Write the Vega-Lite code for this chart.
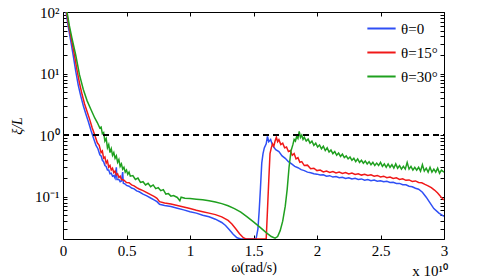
{
  "$schema": "https://vega.github.io/schema/vega-lite/v6.json",
  "width": 381,
  "height": 227,
  "autosize": "none",
  "padding": {"left": 63, "top": 12, "right": 47, "bottom": 41},
  "config": {
    "font": "Liberation Serif",
    "view": {"stroke": null},
    "axis": {"grid": false, "domainColor": "black", "tickColor": "black", "labelColor": "black", "titleColor": "black", "labelFontSize": 15, "titleFontWeight": "normal", "titleFontSize": 14, "tickSize": -4, "labelPadding": 8, "labelFont": "Liberation Serif", "titleFont": "Liberation Serif"},
    "legend": {"labelFont": "Liberation Serif"}
  },
  "title": {"text": "x 10¹⁰", "orient": "bottom", "anchor": "end", "fontSize": 15, "fontWeight": "normal", "font": "Liberation Serif", "color": "black", "offset": -10},
  "datasets": {
    "ref": [{"x": 0, "y": 1}, {"x": 3, "y": 1}],
    "curves": [
      {"s":"θ=0","x":0.02,"y":115},{"s":"θ=0","x":0.04,"y":60},{"s":"θ=0","x":0.06,"y":35},{"s":"θ=0","x":0.08,"y":20},{"s":"θ=0","x":0.1,"y":11},{"s":"θ=0","x":0.12,"y":6.5},{"s":"θ=0","x":0.14,"y":4.3},{"s":"θ=0","x":0.16,"y":3.0},{"s":"θ=0","x":0.18,"y":2.2},{"s":"θ=0","x":0.2,"y":1.65},{"s":"θ=0","x":0.22,"y":1.2},{"s":"θ=0","x":0.24,"y":0.9},{"s":"θ=0","x":0.26,"y":0.68},{"s":"θ=0","x":0.275,"y":0.6},{"s":"θ=0","x":0.29,"y":0.48},{"s":"θ=0","x":0.3,"y":0.46},{"s":"θ=0","x":0.31,"y":0.39},{"s":"θ=0","x":0.32,"y":0.37},{"s":"θ=0","x":0.33,"y":0.32},{"s":"θ=0","x":0.34,"y":0.31},{"s":"θ=0","x":0.35,"y":0.27},{"s":"θ=0","x":0.36,"y":0.27},{"s":"θ=0","x":0.37,"y":0.235},{"s":"θ=0","x":0.38,"y":0.24},{"s":"θ=0","x":0.39,"y":0.215},{"s":"θ=0","x":0.4,"y":0.22},{"s":"θ=0","x":0.41,"y":0.2},{"s":"θ=0","x":0.42,"y":0.3},{"s":"θ=0","x":0.425,"y":0.19},{"s":"θ=0","x":0.44,"y":0.19},{"s":"θ=0","x":0.45,"y":0.175},{"s":"θ=0","x":0.46,"y":0.18},{"s":"θ=0","x":0.47,"y":0.25},{"s":"θ=0","x":0.475,"y":0.165},{"s":"θ=0","x":0.49,"y":0.16},{"s":"θ=0","x":0.5,"y":0.152},{"s":"θ=0","x":0.52,"y":0.148},{"s":"θ=0","x":0.54,"y":0.138},{"s":"θ=0","x":0.56,"y":0.134},{"s":"θ=0","x":0.58,"y":0.124},{"s":"θ=0","x":0.6,"y":0.12},{"s":"θ=0","x":0.63,"y":0.11},{"s":"θ=0","x":0.66,"y":0.103},{"s":"θ=0","x":0.69,"y":0.095},{"s":"θ=0","x":0.72,"y":0.088},{"s":"θ=0","x":0.74,"y":0.083},{"s":"θ=0","x":0.76,"y":0.075},{"s":"θ=0","x":0.8,"y":0.072},{"s":"θ=0","x":0.85,"y":0.069},{"s":"θ=0","x":0.9,"y":0.065},{"s":"θ=0","x":0.95,"y":0.061},{"s":"θ=0","x":1.0,"y":0.057},{"s":"θ=0","x":1.05,"y":0.054},{"s":"θ=0","x":1.1,"y":0.05},{"s":"θ=0","x":1.15,"y":0.047},{"s":"θ=0","x":1.2,"y":0.043},{"s":"θ=0","x":1.25,"y":0.038},{"s":"θ=0","x":1.28,"y":0.034},{"s":"θ=0","x":1.31,"y":0.029},{"s":"θ=0","x":1.34,"y":0.0245},{"s":"θ=0","x":1.37,"y":0.0215},{"s":"θ=0","x":1.4,"y":0.0205},{"s":"θ=0","x":1.52,"y":0.0205},{"s":"θ=0","x":1.535,"y":0.03},{"s":"θ=0","x":1.545,"y":0.06},{"s":"θ=0","x":1.555,"y":0.14},{"s":"θ=0","x":1.565,"y":0.35},{"s":"θ=0","x":1.575,"y":0.5},{"s":"θ=0","x":1.585,"y":0.62},{"s":"θ=0","x":1.6,"y":0.72},{"s":"θ=0","x":1.61,"y":0.95},{"s":"θ=0","x":1.62,"y":0.78},{"s":"θ=0","x":1.635,"y":0.85},{"s":"θ=0","x":1.65,"y":0.68},{"s":"θ=0","x":1.675,"y":0.58},{"s":"θ=0","x":1.7,"y":0.54},{"s":"θ=0","x":1.725,"y":0.46},{"s":"θ=0","x":1.75,"y":0.42},{"s":"θ=0","x":1.775,"y":0.37},{"s":"θ=0","x":1.8,"y":0.34},{"s":"θ=0","x":1.825,"y":0.31},{"s":"θ=0","x":1.85,"y":0.295},{"s":"θ=0","x":1.875,"y":0.275},{"s":"θ=0","x":1.9,"y":0.265},{"s":"θ=0","x":1.925,"y":0.25},{"s":"θ=0","x":1.95,"y":0.245},{"s":"θ=0","x":1.975,"y":0.235},{"s":"θ=0","x":2.0,"y":0.232},{"s":"θ=0","x":2.025,"y":0.224},{"s":"θ=0","x":2.05,"y":0.226},{"s":"θ=0","x":2.075,"y":0.215},{"s":"θ=0","x":2.1,"y":0.219},{"s":"θ=0","x":2.125,"y":0.208},{"s":"θ=0","x":2.15,"y":0.213},{"s":"θ=0","x":2.175,"y":0.203},{"s":"θ=0","x":2.2,"y":0.207},{"s":"θ=0","x":2.225,"y":0.198},{"s":"θ=0","x":2.25,"y":0.203},{"s":"θ=0","x":2.275,"y":0.193},{"s":"θ=0","x":2.3,"y":0.198},{"s":"θ=0","x":2.325,"y":0.19},{"s":"θ=0","x":2.35,"y":0.194},{"s":"θ=0","x":2.375,"y":0.185},{"s":"θ=0","x":2.4,"y":0.19},{"s":"θ=0","x":2.425,"y":0.182},{"s":"θ=0","x":2.45,"y":0.186},{"s":"θ=0","x":2.475,"y":0.178},{"s":"θ=0","x":2.5,"y":0.181},{"s":"θ=0","x":2.525,"y":0.174},{"s":"θ=0","x":2.55,"y":0.177},{"s":"θ=0","x":2.575,"y":0.17},{"s":"θ=0","x":2.6,"y":0.171},{"s":"θ=0","x":2.625,"y":0.164},{"s":"θ=0","x":2.65,"y":0.164},{"s":"θ=0","x":2.675,"y":0.156},{"s":"θ=0","x":2.7,"y":0.156},{"s":"θ=0","x":2.725,"y":0.148},{"s":"θ=0","x":2.75,"y":0.145},{"s":"θ=0","x":2.775,"y":0.137},{"s":"θ=0","x":2.8,"y":0.132},{"s":"θ=0","x":2.83,"y":0.118},{"s":"θ=0","x":2.86,"y":0.098},{"s":"θ=0","x":2.89,"y":0.079},{"s":"θ=0","x":2.92,"y":0.064},{"s":"θ=0","x":2.96,"y":0.054},{"s":"θ=0","x":3.0,"y":0.048},
      {"s":"θ=15°","x":0.02,"y":125},{"s":"θ=15°","x":0.045,"y":60},{"s":"θ=15°","x":0.07,"y":33},{"s":"θ=15°","x":0.09,"y":20},{"s":"θ=15°","x":0.11,"y":11.5},{"s":"θ=15°","x":0.13,"y":7},{"s":"θ=15°","x":0.15,"y":4.6},{"s":"θ=15°","x":0.17,"y":3.2},{"s":"θ=15°","x":0.19,"y":2.4},{"s":"θ=15°","x":0.21,"y":1.8},{"s":"θ=15°","x":0.23,"y":1.3},{"s":"θ=15°","x":0.25,"y":1.0},{"s":"θ=15°","x":0.27,"y":0.75},{"s":"θ=15°","x":0.285,"y":0.68},{"s":"θ=15°","x":0.3,"y":0.52},{"s":"θ=15°","x":0.31,"y":0.55},{"s":"θ=15°","x":0.32,"y":0.42},{"s":"θ=15°","x":0.33,"y":0.44},{"s":"θ=15°","x":0.34,"y":0.35},{"s":"θ=15°","x":0.35,"y":0.38},{"s":"θ=15°","x":0.36,"y":0.3},{"s":"θ=15°","x":0.37,"y":0.32},{"s":"θ=15°","x":0.38,"y":0.27},{"s":"θ=15°","x":0.39,"y":0.29},{"s":"θ=15°","x":0.4,"y":0.245},{"s":"θ=15°","x":0.41,"y":0.26},{"s":"θ=15°","x":0.42,"y":0.225},{"s":"θ=15°","x":0.43,"y":0.235},{"s":"θ=15°","x":0.44,"y":0.205},{"s":"θ=15°","x":0.45,"y":0.215},{"s":"θ=15°","x":0.46,"y":0.19},{"s":"θ=15°","x":0.48,"y":0.185},{"s":"θ=15°","x":0.5,"y":0.17},{"s":"θ=15°","x":0.52,"y":0.168},{"s":"θ=15°","x":0.54,"y":0.155},{"s":"θ=15°","x":0.56,"y":0.15},{"s":"θ=15°","x":0.58,"y":0.14},{"s":"θ=15°","x":0.6,"y":0.133},{"s":"θ=15°","x":0.63,"y":0.125},{"s":"θ=15°","x":0.66,"y":0.116},{"s":"θ=15°","x":0.69,"y":0.108},{"s":"θ=15°","x":0.72,"y":0.1},{"s":"θ=15°","x":0.74,"y":0.094},{"s":"θ=15°","x":0.76,"y":0.083},{"s":"θ=15°","x":0.8,"y":0.079},{"s":"θ=15°","x":0.85,"y":0.076},{"s":"θ=15°","x":0.9,"y":0.072},{"s":"θ=15°","x":0.95,"y":0.068},{"s":"θ=15°","x":1.0,"y":0.064},{"s":"θ=15°","x":1.05,"y":0.06},{"s":"θ=15°","x":1.1,"y":0.057},{"s":"θ=15°","x":1.15,"y":0.054},{"s":"θ=15°","x":1.2,"y":0.051},{"s":"θ=15°","x":1.25,"y":0.047},{"s":"θ=15°","x":1.3,"y":0.041},{"s":"θ=15°","x":1.33,"y":0.036},{"s":"θ=15°","x":1.36,"y":0.03},{"s":"θ=15°","x":1.39,"y":0.025},{"s":"θ=15°","x":1.42,"y":0.0215},{"s":"θ=15°","x":1.44,"y":0.0205},{"s":"θ=15°","x":1.6,"y":0.0205},{"s":"θ=15°","x":1.61,"y":0.06},{"s":"θ=15°","x":1.62,"y":0.18},{"s":"θ=15°","x":1.63,"y":0.5},{"s":"θ=15°","x":1.64,"y":0.62},{"s":"θ=15°","x":1.65,"y":0.72},{"s":"θ=15°","x":1.66,"y":0.66},{"s":"θ=15°","x":1.67,"y":0.8},{"s":"θ=15°","x":1.68,"y":0.92},{"s":"θ=15°","x":1.69,"y":0.78},{"s":"θ=15°","x":1.7,"y":0.84},{"s":"θ=15°","x":1.715,"y":0.7},{"s":"θ=15°","x":1.73,"y":0.74},{"s":"θ=15°","x":1.745,"y":0.62},{"s":"θ=15°","x":1.76,"y":0.64},{"s":"θ=15°","x":1.775,"y":0.54},{"s":"θ=15°","x":1.79,"y":0.56},{"s":"θ=15°","x":1.805,"y":0.47},{"s":"θ=15°","x":1.82,"y":0.5},{"s":"θ=15°","x":1.835,"y":0.41},{"s":"θ=15°","x":1.85,"y":0.43},{"s":"θ=15°","x":1.865,"y":0.36},{"s":"θ=15°","x":1.88,"y":0.37},{"s":"θ=15°","x":1.9,"y":0.32},{"s":"θ=15°","x":1.925,"y":0.325},{"s":"θ=15°","x":1.95,"y":0.285},{"s":"θ=15°","x":1.975,"y":0.29},{"s":"θ=15°","x":2.0,"y":0.265},{"s":"θ=15°","x":2.025,"y":0.27},{"s":"θ=15°","x":2.05,"y":0.252},{"s":"θ=15°","x":2.075,"y":0.26},{"s":"θ=15°","x":2.1,"y":0.247},{"s":"θ=15°","x":2.125,"y":0.256},{"s":"θ=15°","x":2.15,"y":0.242},{"s":"θ=15°","x":2.175,"y":0.25},{"s":"θ=15°","x":2.2,"y":0.238},{"s":"θ=15°","x":2.225,"y":0.246},{"s":"θ=15°","x":2.25,"y":0.233},{"s":"θ=15°","x":2.275,"y":0.241},{"s":"θ=15°","x":2.3,"y":0.229},{"s":"θ=15°","x":2.325,"y":0.236},{"s":"θ=15°","x":2.35,"y":0.224},{"s":"θ=15°","x":2.375,"y":0.231},{"s":"θ=15°","x":2.4,"y":0.22},{"s":"θ=15°","x":2.425,"y":0.226},{"s":"θ=15°","x":2.45,"y":0.214},{"s":"θ=15°","x":2.475,"y":0.221},{"s":"θ=15°","x":2.5,"y":0.209},{"s":"θ=15°","x":2.525,"y":0.215},{"s":"θ=15°","x":2.55,"y":0.203},{"s":"θ=15°","x":2.575,"y":0.208},{"s":"θ=15°","x":2.6,"y":0.197},{"s":"θ=15°","x":2.625,"y":0.202},{"s":"θ=15°","x":2.65,"y":0.19},{"s":"θ=15°","x":2.675,"y":0.195},{"s":"θ=15°","x":2.7,"y":0.184},{"s":"θ=15°","x":2.725,"y":0.187},{"s":"θ=15°","x":2.75,"y":0.177},{"s":"θ=15°","x":2.775,"y":0.18},{"s":"θ=15°","x":2.8,"y":0.17},{"s":"θ=15°","x":2.825,"y":0.168},{"s":"θ=15°","x":2.85,"y":0.158},{"s":"θ=15°","x":2.875,"y":0.15},{"s":"θ=15°","x":2.9,"y":0.14},{"s":"θ=15°","x":2.925,"y":0.128},{"s":"θ=15°","x":2.95,"y":0.115},{"s":"θ=15°","x":2.975,"y":0.1},{"s":"θ=15°","x":3.0,"y":0.088},
      {"s":"θ=30°","x":0.03,"y":105},{"s":"θ=30°","x":0.05,"y":60},{"s":"θ=30°","x":0.07,"y":38},{"s":"θ=30°","x":0.1,"y":20},{"s":"θ=30°","x":0.13,"y":9.5},{"s":"θ=30°","x":0.16,"y":5.5},{"s":"θ=30°","x":0.19,"y":3.6},{"s":"θ=30°","x":0.22,"y":2.6},{"s":"θ=30°","x":0.25,"y":1.9},{"s":"θ=30°","x":0.27,"y":1.6},{"s":"θ=30°","x":0.29,"y":1.3},{"s":"θ=30°","x":0.3,"y":1.35},{"s":"θ=30°","x":0.31,"y":1.05},{"s":"θ=30°","x":0.32,"y":1.1},{"s":"θ=30°","x":0.33,"y":0.8},{"s":"θ=30°","x":0.34,"y":0.88},{"s":"θ=30°","x":0.35,"y":0.62},{"s":"θ=30°","x":0.36,"y":0.7},{"s":"θ=30°","x":0.37,"y":0.52},{"s":"θ=30°","x":0.38,"y":0.6},{"s":"θ=30°","x":0.39,"y":0.47},{"s":"θ=30°","x":0.4,"y":0.52},{"s":"θ=30°","x":0.41,"y":0.42},{"s":"θ=30°","x":0.42,"y":0.46},{"s":"θ=30°","x":0.43,"y":0.36},{"s":"θ=30°","x":0.44,"y":0.4},{"s":"θ=30°","x":0.45,"y":0.31},{"s":"θ=30°","x":0.46,"y":0.34},{"s":"θ=30°","x":0.47,"y":0.28},{"s":"θ=30°","x":0.48,"y":0.3},{"s":"θ=30°","x":0.49,"y":0.25},{"s":"θ=30°","x":0.5,"y":0.27},{"s":"θ=30°","x":0.51,"y":0.23},{"s":"θ=30°","x":0.52,"y":0.25},{"s":"θ=30°","x":0.53,"y":0.215},{"s":"θ=30°","x":0.55,"y":0.22},{"s":"θ=30°","x":0.57,"y":0.19},{"s":"θ=30°","x":0.59,"y":0.2},{"s":"θ=30°","x":0.61,"y":0.17},{"s":"θ=30°","x":0.63,"y":0.175},{"s":"θ=30°","x":0.65,"y":0.155},{"s":"θ=30°","x":0.67,"y":0.165},{"s":"θ=30°","x":0.69,"y":0.145},{"s":"θ=30°","x":0.71,"y":0.155},{"s":"θ=30°","x":0.73,"y":0.135},{"s":"θ=30°","x":0.75,"y":0.14},{"s":"θ=30°","x":0.77,"y":0.125},{"s":"θ=30°","x":0.79,"y":0.13},{"s":"θ=30°","x":0.81,"y":0.11},{"s":"θ=30°","x":0.83,"y":0.112},{"s":"θ=30°","x":0.85,"y":0.102},{"s":"θ=30°","x":0.87,"y":0.104},{"s":"θ=30°","x":0.9,"y":0.097},{"s":"θ=30°","x":0.92,"y":0.086},{"s":"θ=30°","x":0.93,"y":0.098},{"s":"θ=30°","x":0.96,"y":0.094},{"s":"θ=30°","x":1.0,"y":0.093},{"s":"θ=30°","x":1.05,"y":0.091},{"s":"θ=30°","x":1.1,"y":0.089},{"s":"θ=30°","x":1.15,"y":0.086},{"s":"θ=30°","x":1.2,"y":0.082},{"s":"θ=30°","x":1.25,"y":0.077},{"s":"θ=30°","x":1.3,"y":0.071},{"s":"θ=30°","x":1.35,"y":0.064},{"s":"θ=30°","x":1.4,"y":0.056},{"s":"θ=30°","x":1.45,"y":0.047},{"s":"θ=30°","x":1.5,"y":0.039},{"s":"θ=30°","x":1.55,"y":0.032},{"s":"θ=30°","x":1.6,"y":0.026},{"s":"θ=30°","x":1.64,"y":0.0225},{"s":"θ=30°","x":1.67,"y":0.0212},{"s":"θ=30°","x":1.69,"y":0.0225},{"s":"θ=30°","x":1.71,"y":0.028},{"s":"θ=30°","x":1.73,"y":0.04},{"s":"θ=30°","x":1.75,"y":0.07},{"s":"θ=30°","x":1.765,"y":0.13},{"s":"θ=30°","x":1.78,"y":0.3},{"s":"θ=30°","x":1.795,"y":0.55},{"s":"θ=30°","x":1.81,"y":0.7},{"s":"θ=30°","x":1.82,"y":0.85},{"s":"θ=30°","x":1.83,"y":0.8},{"s":"θ=30°","x":1.84,"y":0.95},{"s":"θ=30°","x":1.85,"y":0.88},{"s":"θ=30°","x":1.86,"y":1.15},{"s":"θ=30°","x":1.87,"y":0.92},{"s":"θ=30°","x":1.88,"y":1.0},{"s":"θ=30°","x":1.89,"y":0.85},{"s":"θ=30°","x":1.9,"y":0.92},{"s":"θ=30°","x":1.915,"y":0.8},{"s":"θ=30°","x":1.93,"y":0.86},{"s":"θ=30°","x":1.945,"y":0.74},{"s":"θ=30°","x":1.96,"y":0.8},{"s":"θ=30°","x":1.975,"y":0.68},{"s":"θ=30°","x":1.99,"y":0.74},{"s":"θ=30°","x":2.005,"y":0.64},{"s":"θ=30°","x":2.02,"y":0.69},{"s":"θ=30°","x":2.035,"y":0.6},{"s":"θ=30°","x":2.05,"y":0.66},{"s":"θ=30°","x":2.065,"y":0.56},{"s":"θ=30°","x":2.08,"y":0.62},{"s":"θ=30°","x":2.095,"y":0.53},{"s":"θ=30°","x":2.11,"y":0.57},{"s":"θ=30°","x":2.125,"y":0.5},{"s":"θ=30°","x":2.14,"y":0.54},{"s":"θ=30°","x":2.155,"y":0.47},{"s":"θ=30°","x":2.17,"y":0.51},{"s":"θ=30°","x":2.185,"y":0.45},{"s":"θ=30°","x":2.2,"y":0.49},{"s":"θ=30°","x":2.215,"y":0.43},{"s":"θ=30°","x":2.23,"y":0.46},{"s":"θ=30°","x":2.245,"y":0.41},{"s":"θ=30°","x":2.26,"y":0.44},{"s":"θ=30°","x":2.275,"y":0.39},{"s":"θ=30°","x":2.29,"y":0.42},{"s":"θ=30°","x":2.305,"y":0.37},{"s":"θ=30°","x":2.32,"y":0.41},{"s":"θ=30°","x":2.335,"y":0.36},{"s":"θ=30°","x":2.35,"y":0.39},{"s":"θ=30°","x":2.365,"y":0.35},{"s":"θ=30°","x":2.38,"y":0.38},{"s":"θ=30°","x":2.395,"y":0.34},{"s":"θ=30°","x":2.41,"y":0.37},{"s":"θ=30°","x":2.425,"y":0.33},{"s":"θ=30°","x":2.44,"y":0.36},{"s":"θ=30°","x":2.455,"y":0.32},{"s":"θ=30°","x":2.47,"y":0.35},{"s":"θ=30°","x":2.485,"y":0.32},{"s":"θ=30°","x":2.5,"y":0.36},{"s":"θ=30°","x":2.515,"y":0.31},{"s":"θ=30°","x":2.53,"y":0.34},{"s":"θ=30°","x":2.545,"y":0.3},{"s":"θ=30°","x":2.56,"y":0.34},{"s":"θ=30°","x":2.575,"y":0.3},{"s":"θ=30°","x":2.59,"y":0.33},{"s":"θ=30°","x":2.605,"y":0.29},{"s":"θ=30°","x":2.62,"y":0.34},{"s":"θ=30°","x":2.635,"y":0.29},{"s":"θ=30°","x":2.65,"y":0.32},{"s":"θ=30°","x":2.665,"y":0.28},{"s":"θ=30°","x":2.68,"y":0.31},{"s":"θ=30°","x":2.695,"y":0.28},{"s":"θ=30°","x":2.71,"y":0.36},{"s":"θ=30°","x":2.725,"y":0.28},{"s":"θ=30°","x":2.74,"y":0.31},{"s":"θ=30°","x":2.755,"y":0.27},{"s":"θ=30°","x":2.77,"y":0.3},{"s":"θ=30°","x":2.785,"y":0.27},{"s":"θ=30°","x":2.8,"y":0.3},{"s":"θ=30°","x":2.815,"y":0.26},{"s":"θ=30°","x":2.83,"y":0.33},{"s":"θ=30°","x":2.845,"y":0.26},{"s":"θ=30°","x":2.86,"y":0.29},{"s":"θ=30°","x":2.875,"y":0.25},{"s":"θ=30°","x":2.89,"y":0.3},{"s":"θ=30°","x":2.905,"y":0.25},{"s":"θ=30°","x":2.92,"y":0.28},{"s":"θ=30°","x":2.935,"y":0.25},{"s":"θ=30°","x":2.95,"y":0.29},{"s":"θ=30°","x":2.965,"y":0.24},{"s":"θ=30°","x":2.98,"y":0.27},{"s":"θ=30°","x":3.0,"y":0.25}
    ]
  },
  "layer": [
    {
      "data": {"name": "curves"},
      "mark": {"type": "line", "strokeWidth": 1.5, "clip": true, "interpolate": "linear"},
      "encoding": {
        "x": {"field": "x", "type": "quantitative", "scale": {"domain": [0, 3], "nice": false, "zero": false},
          "axis": {"orient": "bottom", "values": [0, 0.5, 1, 1.5, 2, 2.5, 3], "format": "~g", "title": "ω(rad/s)", "titlePadding": 2, "labelFlush": false}},
        "y": {"field": "y", "type": "quantitative", "scale": {"type": "log", "domain": [0.0205, 100], "nice": false},
          "axis": {"orient": "left", "values": [0.03,0.04,0.05,0.06,0.07,0.08,0.09,0.1,0.2,0.3,0.4,0.5,0.6,0.7,0.8,0.9,1,2,3,4,5,6,7,8,9,10,20,30,40,50,60,70,80,90,100],
            "labelExpr": "datum.value == 100 ? '10²' : datum.value == 10 ? '10¹' : datum.value == 1 ? '10⁰' : datum.value == 0.1 ? '10⁻¹' : ''",
            "title": "ξ/L", "titleFontStyle": "italic", "titlePadding": 10, "labelFlush": false}},
        "color": {"field": "s", "type": "nominal",
          "scale": {"domain": ["θ=0", "θ=15°", "θ=30°"], "range": ["#2f4ff5", "#f01818", "#1fa01f"]},
          "legend": {"orient": "none", "legendX": 303, "legendY": 1, "title": null, "symbolType": "stroke", "symbolSize": 800, "symbolStrokeWidth": 2, "labelFontSize": 15, "labelColor": "black", "rowPadding": -7, "labelOffset": 4}}
      }
    },
    {
      "data": {"name": "ref"},
      "mark": {"type": "line", "color": "black", "strokeWidth": 2, "strokeDash": [6, 4]},
      "encoding": {
        "x": {"field": "x", "type": "quantitative", "axis": {"orient": "top", "values": [0, 0.5, 1, 1.5, 2, 2.5, 3], "labels": false, "title": null}},
        "y": {"field": "y", "type": "quantitative", "axis": {"orient": "right", "values": [0.03,0.04,0.05,0.06,0.07,0.08,0.09,0.1,0.2,0.3,0.4,0.5,0.6,0.7,0.8,0.9,1,2,3,4,5,6,7,8,9,10,20,30,40,50,60,70,80,90,100], "labels": false, "title": null}}
      }
    }
  ],
  "resolve": {"axis": {"x": "independent", "y": "independent"}}
}
